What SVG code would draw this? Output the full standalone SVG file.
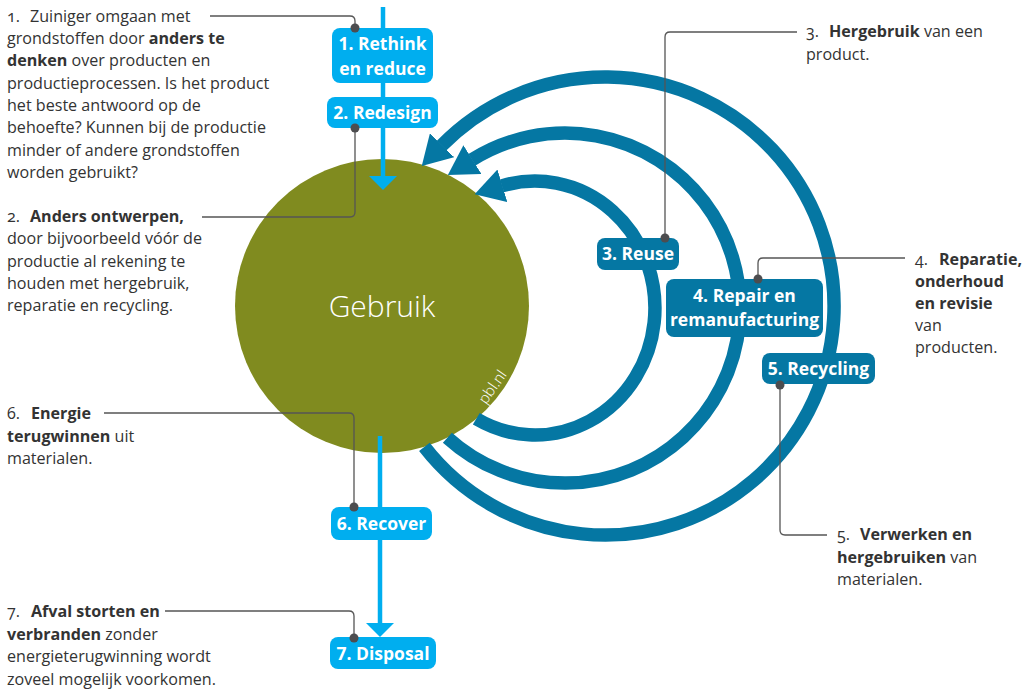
<svg xmlns="http://www.w3.org/2000/svg" width="1028" height="690" viewBox="0 0 1028 690">
<style>
.body{font-family:"Open Sans","Noto Sans",sans-serif;font-size:16.1px;fill:#333}
.b{font-weight:700}
.n{font-variant-numeric:oldstyle-nums}
.lbl{font-family:"Open Sans","Noto Sans",sans-serif;font-size:17.5px;font-weight:700;fill:#fff;text-anchor:middle}
.lb{fill:#00aeef}
.db{fill:#0577a3}
.flow{fill:none;stroke:#0577a3;stroke-width:13.5;marker-end:url(#dk)}
.axis{fill:none;stroke:#00aeef;stroke-width:4.5;marker-end:url(#lt)}
.lead{fill:none;stroke:#555;stroke-width:1.3}
.dot{fill:#4d4d4f}
</style>
<defs>
<marker id="dk" viewBox="0 0 29 34" refX="0.5" refY="17" markerWidth="29" markerHeight="34" markerUnits="userSpaceOnUse" orient="auto"><path d="M0,0 L29,17 L0,34 z" fill="#0577a3"/></marker>
<marker id="lt" viewBox="0 0 14 28" refX="0.5" refY="14" markerWidth="14" markerHeight="28" markerUnits="userSpaceOnUse" orient="auto"><path d="M0,0 L14,14 L0,28 z" fill="#00aeef"/></marker>
</defs>
<rect width="1028" height="690" fill="#fff"/>

<g id="node-gebruik">
<circle cx="382" cy="306" r="147" fill="#808b1f"/>
<text x="382" y="317" text-anchor="middle" font-family="Open Sans, Noto Sans, sans-serif" font-size="30" font-weight="300" fill="#fff">Gebruik</text>
<text transform="translate(486,405) rotate(-55)" font-family="Open Sans, Noto Sans, sans-serif" font-size="15" font-weight="300" fill="#fff">pbl.nl</text>
</g>

<g id="connectors">
<path class="flow" d="M476.3,418.8 A120,127 0 1 0 501.9,185.9"/>
<path class="flow" d="M447.4,437.7 A175,175 0 1 0 472.0,159.8"/>
<path class="flow" d="M424.4,446.8 A229,229 0 1 0 441.7,145.6"/>
<path class="axis" d="M383,7 V176.5"/>
<path class="axis" d="M380,436 V623.5"/>
<path class="lead" d="M210,16 H350 Q355,16 355,21 V28"/>
<path class="lead" d="M355,128 V212 Q355,217 350,217 H202"/>
<path class="lead" d="M665,238 V37 Q665,32 670,32 H797"/>
<path class="lead" d="M758,279 V263 Q758,258 763,258 H905"/>
<path class="lead" d="M780,385 V530 Q780,535 785,535 H827"/>
<path class="lead" d="M354,507 V418 Q354,413 349,413 H104"/>
<path class="lead" d="M354,638 V616 Q354,611 349,611 H165"/>
</g>

<g id="node-rethink">
<rect class="lb" x="332" y="28" width="101" height="55" rx="8"/>
<text class="lbl" x="382.5" y="50">1. Rethink</text>
<text class="lbl" x="382.5" y="75">en reduce</text>
<circle class="dot" cx="355" cy="28" r="4.5"/>
</g>
<g id="node-redesign">
<rect class="lb" x="327" y="97" width="111" height="31" rx="8"/>
<text class="lbl" x="382.5" y="118.5">2. Redesign</text>
<circle class="dot" cx="355" cy="128" r="4.5"/>
</g>
<g id="node-reuse">
<rect class="db" x="597" y="238" width="82" height="32" rx="8"/>
<text class="lbl" x="638" y="259.5">3. Reuse</text>
<circle class="dot" cx="665" cy="238" r="4.5"/>
</g>
<g id="node-repair">
<rect class="db" x="666" y="279" width="157" height="58" rx="8"/>
<text class="lbl" x="744.5" y="302">4. Repair en</text>
<text class="lbl" x="744.5" y="326">remanufacturing</text>
<circle class="dot" cx="758" cy="279" r="4.5"/>
</g>
<g id="node-recycling">
<rect class="db" x="762" y="353" width="113" height="31" rx="8"/>
<text class="lbl" x="818.5" y="375">5. Recycling</text>
<circle class="dot" cx="780" cy="385" r="4.5"/>
</g>
<g id="node-recover">
<rect class="lb" x="331" y="507" width="101" height="33" rx="8"/>
<text class="lbl" x="381.5" y="530">6. Recover</text>
<circle class="dot" cx="354" cy="507" r="4.5"/>
</g>
<g id="node-disposal">
<rect class="lb" x="330" y="637" width="106" height="32" rx="8"/>
<text class="lbl" x="383" y="660">7. Disposal</text>
<circle class="dot" cx="354" cy="638" r="4.5"/>
</g>

<g id="note-1">
<text class="body"><tspan x="7" y="21.7" class="n">1.</tspan><tspan x="30" y="21.7">Zuiniger omgaan met</tspan>
<tspan x="7" y="44">grondstoffen door <tspan class="b">anders te</tspan></tspan>
<tspan x="7" y="66.3"><tspan class="b">denken</tspan> over producten en</tspan>
<tspan x="7" y="88.6">productieprocessen. Is het product</tspan>
<tspan x="7" y="110.9">het beste antwoord op de</tspan>
<tspan x="7" y="133.2">behoefte? Kunnen bij de productie</tspan>
<tspan x="7" y="155.5">minder of andere grondstoffen</tspan>
<tspan x="7" y="177.8">worden gebruikt?</tspan></text>
</g>
<g id="note-2">
<text class="body"><tspan x="7" y="222" class="n">2.</tspan><tspan x="30" y="222" class="b">Anders ontwerpen,</tspan>
<tspan x="7" y="244.3">door bijvoorbeeld vóór de</tspan>
<tspan x="7" y="266.6">productie al rekening te</tspan>
<tspan x="7" y="288.9">houden met hergebruik,</tspan>
<tspan x="7" y="311.2">reparatie en recycling.</tspan></text>
</g>
<g id="note-3">
<text class="body"><tspan x="806" y="37" class="n">3.</tspan><tspan x="829" y="37" class="b">Hergebruik</tspan><tspan> van een</tspan>
<tspan x="806" y="60">product.</tspan></text>
</g>
<g id="note-4">
<text class="body"><tspan x="915" y="265" class="n">4.</tspan><tspan x="939" y="265" class="b">Reparatie,</tspan>
<tspan x="915" y="287" class="b">onderhoud</tspan>
<tspan x="915" y="308.5" class="b">en revisie</tspan>
<tspan x="915" y="330.5">van</tspan>
<tspan x="915" y="352.5">producten.</tspan></text>
</g>
<g id="note-5">
<text class="body"><tspan x="837" y="540" class="n">5.</tspan><tspan x="860" y="540" class="b">Verwerken en</tspan>
<tspan x="837" y="562.5"><tspan class="b">hergebruiken</tspan> van</tspan>
<tspan x="837" y="585">materialen.</tspan></text>
</g>
<g id="note-6">
<text class="body"><tspan x="7" y="419" class="n">6.</tspan><tspan x="31" y="419" class="b">Energie</tspan>
<tspan x="7" y="441.5"><tspan class="b">terugwinnen</tspan> uit</tspan>
<tspan x="7" y="464">materialen.</tspan></text>
</g>
<g id="note-7">
<text class="body"><tspan x="7" y="617" class="n">7.</tspan><tspan x="31" y="617" class="b">Afval storten en</tspan>
<tspan x="7" y="639.5"><tspan class="b">verbranden</tspan> zonder</tspan>
<tspan x="7" y="662">energieterugwinning wordt</tspan>
<tspan x="7" y="684.5">zoveel mogelijk voorkomen.</tspan></text>
</g>
</svg>
